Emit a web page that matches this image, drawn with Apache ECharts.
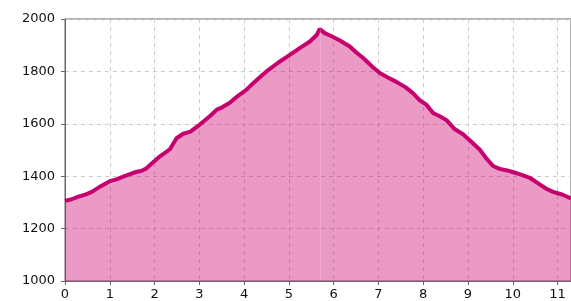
<!DOCTYPE html>
<html>
<head>
<meta charset="utf-8">
<script src="https://cdn.jsdelivr.net/npm/echarts@6/dist/echarts.min.js"></script>
<style>
html, body { margin: 0; padding: 0; background: #fff; }
#main { width: 571px; height: 301px; }
</style>
</head>
<body>
<div id="main"></div>
<script>
var xValues = [0, 0.15, 0.3, 0.45, 0.6, 0.8, 1.0, 1.15, 1.3, 1.45, 1.6, 1.7, 1.82, 1.95, 2.12, 2.34, 2.49, 2.64, 2.8, 3.01,
    3.24, 3.39, 3.5, 3.68, 3.85, 4.05, 4.13, 4.3, 4.5, 4.75, 5.02, 5.25, 5.47, 5.62, 5.69, 5.8, 5.92, 6.14, 6.36, 6.5,
    6.66, 6.85, 7.03, 7.2, 7.4, 7.6, 7.77, 7.92, 8.07, 8.22, 8.38, 8.52, 8.7, 8.89, 9.05, 9.26, 9.4, 9.56, 9.71, 9.85,
    10.0, 10.2, 10.38, 10.6, 10.75, 10.9, 11.1, 11.3];
var yValues = [1306, 1312, 1322, 1330, 1340, 1362, 1381, 1388, 1398, 1408, 1417, 1420, 1430, 1450, 1476, 1502, 1545, 1562, 1570, 1597,
    1630, 1654, 1662, 1680, 1705, 1730, 1743, 1770, 1800, 1832, 1863, 1890, 1914, 1939, 1962, 1946, 1937, 1918, 1895, 1873,
    1851, 1820, 1794, 1778, 1760, 1740, 1717, 1690, 1673, 1641, 1628, 1614, 1580, 1560, 1535, 1502, 1470, 1439, 1428, 1423,
    1416, 1405, 1394, 1369, 1352, 1340, 1330, 1315];
var peakX = 5.69;

var points = xValues.map(function (x, i) { return [x, yValues[i]]; });
var myChart = echarts.init(document.getElementById('main'));

var labelStyle = {
    color: '#111',
    fontFamily: 'DejaVu Sans',
    fontSize: 13
};

var option = {
    animation: false,
    grid: {
        left: 65,
        top: 19,
        right: -1,
        bottom: 19,
        show: true,
        borderColor: '#666',
        borderWidth: 1
    },
    xAxis: {
        type: 'value',
        min: 0,
        max: 11.3,
        interval: 1,
        axisLine: { show: true, lineStyle: { color: '#666' } },
        axisTick: { show: true, length: 4, lineStyle: { color: '#666' } },
        axisLabel: Object.assign({
            margin: 7,
            showMaxLabel: false,
            formatter: function (v) { return v % 1 === 0 ? String(v) : ''; }
        }, labelStyle),
        splitLine: { show: true, lineStyle: { color: '#ccc', type: [4, 4] } }
    },
    yAxis: {
        type: 'value',
        min: 1000,
        max: 2000,
        interval: 200,
        axisLine: { show: true, lineStyle: { color: '#666' } },
        axisTick: { show: true, length: 4, lineStyle: { color: '#666' } },
        axisLabel: Object.assign({
            margin: 10,
            formatter: function (v) { return String(v); }
        }, labelStyle),
        splitLine: { show: true, lineStyle: { color: '#ccc', type: [4, 4] } }
    },
    series: [
        {
            type: 'line',
            data: points,
            symbol: 'none',
            lineStyle: { color: '#c6006f', width: 4 },
            areaStyle: { color: 'rgb(204, 0, 110)', opacity: 0.4 },
            markLine: {
                silent: true,
                symbol: 'none',
                label: { show: false },
                lineStyle: { color: 'rgba(255,255,255,0.18)', width: 1, type: 'solid' },
                data: [{ xAxis: peakX }]
            }
        }
    ]
};
myChart.setOption(option);
</script>
</body>
</html>
